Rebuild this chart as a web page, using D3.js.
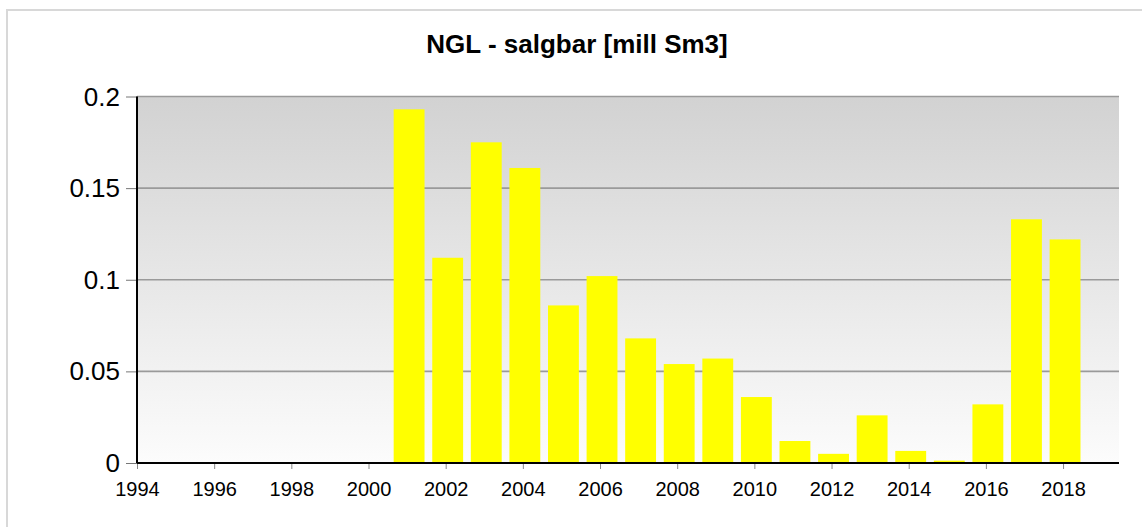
<!DOCTYPE html>
<html lang="en">
<head>
<meta charset="UTF-8">
<title>NGL - salgbar [mill Sm3]</title>
<script src="https://d3js.org/d3.v7.min.js"></script>
<style>
  html, body { margin: 0; padding: 0; background: #fff; }
  svg { display: block; font-family: "Liberation Sans", Arial, sans-serif; }
  .title { font-size: 26px; font-weight: bold; fill: #000; }
  .y-axis text { font-size: 26px; fill: #000; }
  .x-axis text { font-size: 20px; fill: #000; }
</style>
</head>
<body>
<div id="chart"></div>
<script>
// Data
const years = [2001, 2002, 2003, 2004, 2005, 2006, 2007, 2008, 2009, 2010,
               2011, 2012, 2013, 2014, 2015, 2016, 2017, 2018];
const values = [0.193, 0.112, 0.175, 0.161, 0.086, 0.102, 0.068, 0.054, 0.057, 0.036,
                0.012, 0.005, 0.026, 0.0066, 0.0013, 0.032, 0.133, 0.122];
const yTicks = [0, 0.05, 0.1, 0.15, 0.2];
const xTicks = [1994, 1996, 1998, 2000, 2002, 2004, 2006, 2008, 2010, 2012, 2014, 2016, 2018];

const width = 1142, height = 527;
const margin = { top: 96.5, right: 23, bottom: 64, left: 137 };
const innerW = width - margin.left - margin.right;
const innerH = height - margin.top - margin.bottom;

const svg = d3.select('#chart').append('svg')
  .attr('width', width)
  .attr('height', height);

// outer frame (only top and left edges visible)
svg.append('path')
  .attr('d', `M7,${height} L7,10 L${width},10`)
  .attr('fill', 'none')
  .attr('stroke', '#d8d8d8')
  .attr('stroke-width', 2);

// background gradient
const grad = svg.append('defs').append('linearGradient')
  .attr('id', 'bg').attr('x1', 0).attr('y1', 0).attr('x2', 0).attr('y2', 1);
grad.append('stop').attr('offset', '0%').attr('stop-color', '#d2d2d2');
grad.append('stop').attr('offset', '100%').attr('stop-color', '#fcfcfc');

// title
svg.append('text')
  .attr('class', 'title')
  .attr('x', 577)
  .attr('y', 53)
  .attr('text-anchor', 'middle')
  .text('NGL - salgbar [mill Sm3]');

const g = svg.append('g').attr('transform', `translate(${margin.left},${margin.top})`);

const x = d3.scaleLinear().domain([1994, 2019.45]).range([0, innerW]);
const y = d3.scaleLinear().domain([0, 0.2]).range([innerH, 0]);

g.append('rect')
  .attr('width', innerW)
  .attr('height', innerH)
  .attr('fill', 'url(#bg)');

// gridlines
g.append('g')
  .selectAll('line')
  .data(yTicks.filter(d => d > 0))
  .enter().append('line')
  .attr('x1', 0).attr('x2', innerW)
  .attr('y1', d => y(d)).attr('y2', d => y(d))
  .attr('stroke', '#9a9a9a')
  .attr('stroke-width', 1.6);

// bars
const barW = 0.8;
g.selectAll('.bar')
  .data(years.map((yr, i) => ({ yr, v: values[i] })))
  .enter().append('rect')
  .attr('class', 'bar')
  .attr('x', d => x(d.yr - barW / 2) + 2)
  .attr('width', x(1994 + barW) - x(1994))
  .attr('y', d => y(d.v))
  .attr('height', d => innerH - y(d.v))
  .attr('fill', '#ffff00');

// y axis
const yAxis = g.append('g')
  .attr('class', 'y-axis')
  .call(d3.axisLeft(y).tickValues(yTicks).tickSize(11).tickPadding(6)
    .tickFormat(d => d3.format('')(+d.toFixed(2))));
yAxis.select('.domain').remove();
yAxis.selectAll('line').attr('stroke', '#777').attr('stroke-width', 1);
yAxis.selectAll('text').attr('dy', '0.33em');

// x axis
const xAxis = g.append('g')
  .attr('class', 'x-axis')
  .attr('transform', `translate(0,${innerH})`)
  .call(d3.axisBottom(x).tickValues(xTicks).tickSize(6).tickPadding(13).tickFormat(d3.format('d')));
xAxis.select('.domain').remove();
xAxis.selectAll('line').attr('stroke', '#888').attr('stroke-width', 1);

// axis lines
g.append('line')
  .attr('x1', 0).attr('x2', 0).attr('y1', 0).attr('y2', innerH)
  .attr('stroke', '#000').attr('stroke-width', 2);
g.append('line')
  .attr('x1', 0).attr('x2', innerW).attr('y1', innerH).attr('y2', innerH)
  .attr('stroke', '#000').attr('stroke-width', 2);
</script>
</body>
</html>
